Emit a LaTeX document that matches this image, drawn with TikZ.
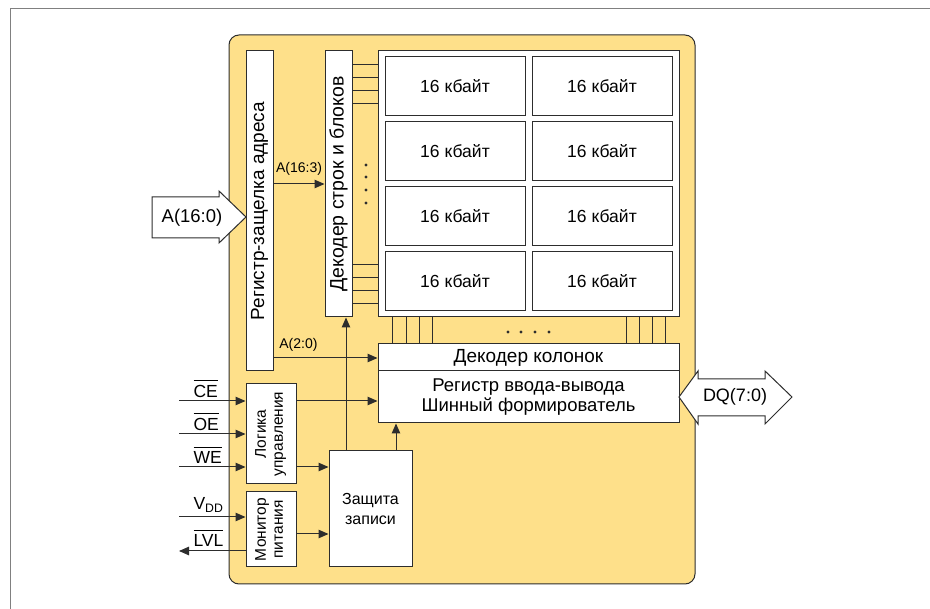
\documentclass[tikz,border=0pt]{standalone}
\usepackage{fontspec}
\setmainfont{Liberation Sans}
\usetikzlibrary{arrows.meta}
\definecolor{chipyellow}{RGB}{254,224,138}
\definecolor{edge}{RGB}{45,45,45}
\newcommand{\ovl}[1]{\leavevmode\vbox{\hrule height 0.9pt\kern 4pt\hbox{#1}}}
\newcommand{\vtwo}[2]{\rotatebox{90}{\begin{tabular}{@{}c@{}}#1\\#2\end{tabular}}}

\begin{document}
\begin{tikzpicture}[x=1pt, y=-1pt, line width=1pt, edge,
    every node/.style={inner sep=0pt, text=black, font=\fontsize{17.5}{20}\selectfont},
    blk/.style={draw=edge, fill=white},
    arr/.style={-{Triangle[length=10pt, width=8.5pt]}},
    lbl/.style={font=\fontsize{14}{16}\selectfont},
    pin/.style={anchor=south west, font=\fontsize{17.5}{20}\selectfont}]
    \useasboundingbox (0,0) rectangle (930,609);
    \draw[gray, line width=1pt] (10,609) -- (10,9) -- (930,9);
    \draw[fill=chipyellow, rounded corners=10pt] (229,35) rectangle (695,584);

    \node[blk, minimum width=27pt, minimum height=320pt, font=\fontsize{19}{20}\selectfont] (latch) at (259.5,211) {\rotatebox{90}{Регистр-защелка адреса}};
    \node[blk, minimum width=27pt, minimum height=266pt, font=\fontsize{19.5}{20}\selectfont] (rowdec) at (338.5,184) {\rotatebox{90}{Декодер строк и блоков}};
    \node[blk, minimum width=301pt, minimum height=266pt] (mem) at (528.5,184) {};
    \foreach \y [count=\r] in {86.5,151.5,216.5,281.5}
        \foreach \x [count=\c] in {455,602}
            \node[blk, minimum width=140pt, minimum height=59pt] (cell\r\c) at (\x,\y) {16 кбайт};
    \node[blk, minimum width=301pt, minimum height=27pt, font=\fontsize{19}{20}\selectfont] (coldec) at (528.5,357.5) {Декодер колонок};
    \node[blk, minimum width=301pt, minimum height=52pt, align=center,
        font=\fontsize{18.5}{20}\selectfont] (iobuf) at (528.5,397) {Регистр ввода-вывода\\Шинный формирователь};
    \node[blk, minimum width=50pt, minimum height=100pt, font=\fontsize{15.5}{17}\selectfont] (logic) at (271,434) {\vtwo{Логика}{управления}};
    \node[blk, minimum width=50pt, minimum height=75pt, font=\fontsize{15.5}{17}\selectfont] (monitor) at (271,529.5) {\vtwo{Монитор}{питания}};
    \node[blk, minimum width=83pt, minimum height=116pt, align=center,
        font=\fontsize{16}{20}\selectfont] (protect) at (370.5,509) {Защита\\записи};

    \foreach \y in {65,78,91,104,265,278,291,304}
        \draw (rowdec.east |- 0,\y) -- (mem.west |- 0,\y);
    \foreach \y in {165,177,190,203}
        \fill (366,\y) circle (1.6pt);
    \foreach \x in {392,406,419,432,626,639,652,665}
        \draw (mem.south -| \x,0) -- (coldec.north -| \x,0);
    \foreach \x in {508,521,535,549}
        \fill (\x,332) circle (1.6pt);

    \draw[fill=white] (152,197) -- (219,197) -- (219,191) -- (246,217) -- (219,243) -- (219,238) -- (152,238) -- cycle;
    \node[font=\fontsize{18.5}{20}\selectfont] (ain) at (192,218) {A(16:0)};
    \draw[fill=white] (679,397) -- (698,371) -- (698,379) -- (765,379) -- (765,371) -- (792,397)
        -- (765,424) -- (765,416) -- (698,416) -- (698,424) -- cycle;
    \node[font=\fontsize{18}{20}\selectfont] (dq) at (735,397) {DQ(7:0)};

    \draw[arr] (latch.east |- 0,184) -- (rowdec.west |- 0,184) node[lbl, midway, above=8pt] {A(16:3)};
    \draw[arr] (latch.east |- 0,358) -- (coldec.west |- 0,358) node[lbl, pos=0.24, above=6pt] {A(2:0)};
    \draw[arr] (logic.east |- 0,401) -- (iobuf.west |- 0,401);
    \draw[arr] (logic.east |- 0,467) -- (protect.west |- 0,467);
    \draw[arr] (monitor.east |- 0,534) -- (protect.west |- 0,534);
    \draw[arr] (protect.north -| 346,0) -- (rowdec.south -| 346,0);
    \draw[arr] (protect.north -| 396,0) -- (iobuf.south -| 396,0);

    \foreach \y/\t in {401/CE, 434/OE, 467/WE} {
        \coordinate (in\t) at (179,\y);
        \draw[arr] (in\t) -- (logic.west |- in\t);
        \node[pin] (lab\t) at (193,\y-3) {\ovl{\t}};
    }
    \coordinate (vdd) at (179,517);
    \draw[arr] (vdd) -- (monitor.west |- vdd);
    \node[pin] (labvdd) at (193,513) {V\textsubscript{DD}};
    \coordinate (lvl) at (179,551);
    \draw[arr] (monitor.west |- lvl) -- (lvl);
    \node[pin] (lablvl) at (193,547) {\ovl{LVL}};
\end{tikzpicture}
\end{document}
